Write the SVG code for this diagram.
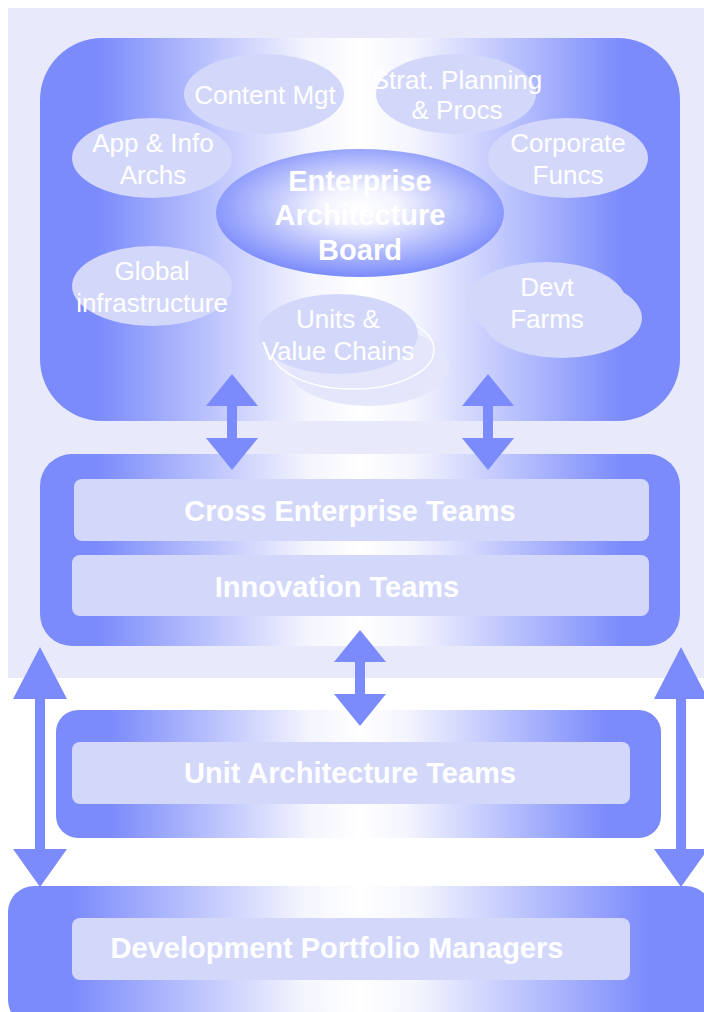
<svg xmlns="http://www.w3.org/2000/svg" width="704" height="1012" viewBox="0 0 704 1012">
<defs>
<linearGradient id="hg" x1="0" y1="0" x2="1" y2="0">
<stop offset="0" stop-color="#7B8BFB"/>
<stop offset="0.09" stop-color="#7B8BFB"/>
<stop offset="0.42" stop-color="#F4F5FE"/>
<stop offset="0.5" stop-color="#FFFFFF"/>
<stop offset="0.58" stop-color="#F4F5FE"/>
<stop offset="0.91" stop-color="#7B8BFB"/>
<stop offset="1" stop-color="#7B8BFB"/>
</linearGradient>
<radialGradient id="rg" cx="0.5" cy="0.45" r="0.55">
<stop offset="0" stop-color="#FFFFFF"/>
<stop offset="0.25" stop-color="#F2F3FE"/>
<stop offset="1" stop-color="#7B8BFB"/>
</radialGradient>
<style>
.box{fill:url(#hg)}
.inner{fill:#D3D8FB}
.ell{fill:#D3D8FB}
.shadow{fill:#E4E7FB}
.lbl{font-family:"Liberation Sans",Arial,sans-serif;font-size:26px;fill:#FFFFFF;text-anchor:middle}
.blbl{font-family:"Liberation Sans",Arial,sans-serif;font-size:29px;font-weight:bold;fill:#FFFFFF;text-anchor:middle}
.arrow{fill:#7B8BFB}
</style>
</defs>
<rect x="8" y="8" width="700" height="670" fill="#E8EAFB"/>
<g id="top-box">
<rect class="box" x="40" y="38" width="640" height="383" rx="62" ry="62"/>
</g>
<g id="content-mgt">
<ellipse class="ell" cx="264" cy="94" rx="80" ry="40"/>
<text class="lbl" x="265" y="104">Content Mgt</text>
</g>
<g id="strat-planning">
<ellipse class="ell" cx="456" cy="94" rx="80" ry="40"/>
<text class="lbl" x="457" y="89">Strat. Planning</text>
<text class="lbl" x="457" y="119">&amp; Procs</text>
</g>
<g id="app-info">
<ellipse class="ell" cx="152" cy="158" rx="80" ry="40"/>
<text class="lbl" x="153" y="152">App &amp; Info</text>
<text class="lbl" x="153" y="184">Archs</text>
</g>
<g id="corporate-funcs">
<ellipse class="ell" cx="568" cy="158" rx="80" ry="40"/>
<text class="lbl" x="568" y="152">Corporate</text>
<text class="lbl" x="568" y="184">Funcs</text>
</g>
<g id="global-infra">
<ellipse class="ell" cx="152" cy="286" rx="80" ry="40"/>
<text class="lbl" x="152" y="280">Global</text>
<text class="lbl" x="152" y="312">infrastructure</text>
</g>
<g id="devt-farms">
<ellipse class="ell" cx="562" cy="318" rx="80" ry="40"/>
<ellipse class="ell" cx="546" cy="302" rx="80" ry="40"/>
<text class="lbl" x="547" y="296">Devt</text>
<text class="lbl" x="547" y="328">Farms</text>
</g>
<g id="units-value">
<ellipse class="shadow" cx="368" cy="366" rx="81" ry="40"/>
<ellipse cx="353" cy="350" rx="81" ry="39" fill="none" stroke="#FFFFFF" stroke-width="1.5"/>
<ellipse class="ell" cx="338" cy="334" rx="80" ry="40"/>
<text class="lbl" x="338" y="328">Units &amp;</text>
<text class="lbl" x="338" y="360">Value Chains</text>
</g>
<g id="ea-board">
<ellipse cx="360" cy="213" rx="144" ry="64" fill="url(#rg)"/>
<text class="blbl" x="360" y="191">Enterprise</text>
<text class="blbl" x="360" y="225">Architecture</text>
<text class="blbl" x="360" y="260">Board</text>
</g>
<g id="cross-box">
<rect class="box" x="40" y="454" width="640" height="192" rx="32" ry="32"/>
<rect class="inner" x="74" y="479" width="575" height="62" rx="8" ry="8"/>
<text class="blbl" x="350" y="521">Cross Enterprise Teams</text>
<rect class="inner" x="72" y="555" width="577" height="61" rx="8" ry="8"/>
<text class="blbl" x="337" y="597">Innovation Teams</text>
</g>
<g id="unit-box">
<rect class="box" x="56" y="710" width="605" height="128" rx="22" ry="22"/>
<rect class="inner" x="72" y="742" width="558" height="62" rx="8" ry="8"/>
<text class="blbl" x="350" y="783">Unit Architecture Teams</text>
</g>
<g id="portfolio-box">
<rect class="box" x="8" y="886" width="704" height="140" rx="26" ry="26"/>
<rect class="inner" x="72" y="918" width="558" height="62" rx="8" ry="8"/>
<text class="blbl" x="337" y="958">Development Portfolio Managers</text>
</g>
<g id="connectors">
<path class="arrow" d="M232,374 L258,406 L237,406 L237,438 L258,438 L232,470 L206,438 L227,438 L227,406 L206,406 Z"/>
<path class="arrow" d="M488,374 L514,406 L493,406 L493,438 L514,438 L488,470 L462,438 L483,438 L483,406 L462,406 Z"/>
<path class="arrow" d="M360,630 L386,662 L365,662 L365,694 L386,694 L360,726 L334,694 L355,694 L355,662 L334,662 Z"/>
<path class="arrow" d="M40,647 L67,699 L45,699 L45,849 L67,849 L40,887 L13,849 L35,849 L35,699 L13,699 Z"/>
<path class="arrow" d="M681,647 L708,699 L686,699 L686,849 L708,849 L681,887 L654,849 L676,849 L676,699 L654,699 Z"/>
</g>
</svg>
